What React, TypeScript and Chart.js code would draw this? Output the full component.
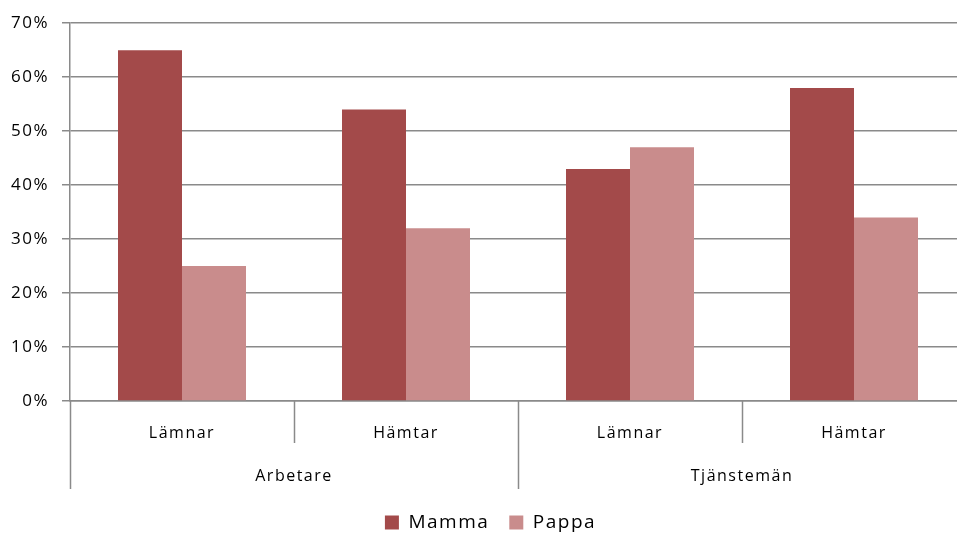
import React, { useEffect, useRef } from "react";
import { Chart, registerables } from "chart.js";

Chart.register(...registerables);

const categories = ["Lämnar", "Hämtar", "Lämnar", "Hämtar"];
const groups = ["Arbetare", "Tjänstemän"];
const groupSpans = [2, 2];
const mamma = [65, 54, 43, 58];
const pappa = [25, 32, 47, 34];
const seriesNames = ["Mamma", "Pappa"];
const yMax = 70;
const yStep = 10;

const FONT = "'Open Sans', 'DejaVu Sans', sans-serif";
const GRID = "#8a8a8a";

const multiLevelAxis = {
  id: "multiLevelAxis",
  beforeDraw(chart: any) {
    (chart.ctx as any).letterSpacing = "1.5px";
  },
  afterDraw(chart: any) {
    const ctx = chart.ctx;
    const x = chart.scales.x;
    const area = chart.chartArea;
    const n = categories.length;
    const half = (x.getPixelForValue(1) - x.getPixelForValue(0)) / 2;
    const bottom = area.bottom;
    const innerEnd = bottom + 42;
    const outerEnd = bottom + 88;
    ctx.save();
    (ctx as any).letterSpacing = "1.5px";
    ctx.strokeStyle = GRID;
    ctx.lineWidth = 1.5;
    const groupStarts = new Set<number>();
    let acc = 0;
    groupSpans.forEach((s) => {
      groupStarts.add(acc);
      acc += s;
    });
    groupStarts.add(acc);
    for (let i = 0; i <= n; i++) {
      const bx = Math.round(x.getPixelForValue(i) - half) + 0.5;
      const end = groupStarts.has(i) ? outerEnd : innerEnd;
      ctx.beginPath();
      ctx.moveTo(bx, bottom);
      ctx.lineTo(bx, end);
      ctx.stroke();
    }
    ctx.fillStyle = "#000";
    ctx.textAlign = "center";
    ctx.textBaseline = "middle";
    ctx.font = `16px ${FONT}`;
    categories.forEach((c, i) => {
      ctx.fillText(c, x.getPixelForValue(i), bottom + 32);
    });
    acc = 0;
    groups.forEach((g, gi) => {
      const s = groupSpans[gi];
      const cx = (x.getPixelForValue(acc) + x.getPixelForValue(acc + s - 1)) / 2;
      ctx.fillText(g, cx, bottom + 75);
      acc += s;
    });
    ctx.restore();
  },
};

export default function App() {
  const ref = useRef<HTMLCanvasElement>(null);
  useEffect(() => {
    if (!ref.current) return;
    const chart = new Chart(ref.current, {
      type: "bar",
      data: {
        labels: categories,
        datasets: [
          {
            label: seriesNames[0],
            data: mamma,
            backgroundColor: "#a34a4a",
            borderWidth: 0,
          },
          {
            label: seriesNames[1],
            data: pappa,
            backgroundColor: "#c98c8c",
            borderWidth: 0,
          },
        ],
      },
      options: {
        animation: false,
        responsive: false,
        maintainAspectRatio: false,
        datasets: {
          bar: { categoryPercentage: 0.5714, barPercentage: 1 },
        },
        layout: { padding: { top: 14, right: 14, left: 0, bottom: -8 } },
        plugins: {
          tooltip: { enabled: false },
          legend: {
            position: "bottom",
            labels: {
              boxWidth: 14,
              boxHeight: 14,
              padding: 20,
              color: "#000",
              font: { family: FONT, size: 19 },
            },
          },
        },
        scales: {
          x: {
            grid: { display: false },
            border: { color: GRID, width: 1.5 },
            ticks: { display: false },
            afterFit: (s: any) => {
              s.height = 92;
            },
          },
          y: {
            min: 0,
            max: yMax,
            ticks: {
              stepSize: yStep,
              callback: (v: any) => v + "%",
              color: "#000",
              font: { family: FONT, size: 17 },
              padding: 13,
            },
            grid: { color: GRID, lineWidth: 1.5, tickLength: 8 },
            border: { color: GRID, width: 1.5 },
            afterFit: (s: any) => {
              s.width = 70;
            },
          },
        },
      },
      plugins: [multiLevelAxis],
    });
    return () => chart.destroy();
  }, []);
  return (
    <div
      style={{
        position: "fixed",
        left: 0,
        top: 0,
        width: 957,
        height: 534,
        overflow: "hidden",
        background: "#fff",
      }}
    >
      <canvas ref={ref} width={980} height={534} style={{ display: "block" }} />
    </div>
  );
}
